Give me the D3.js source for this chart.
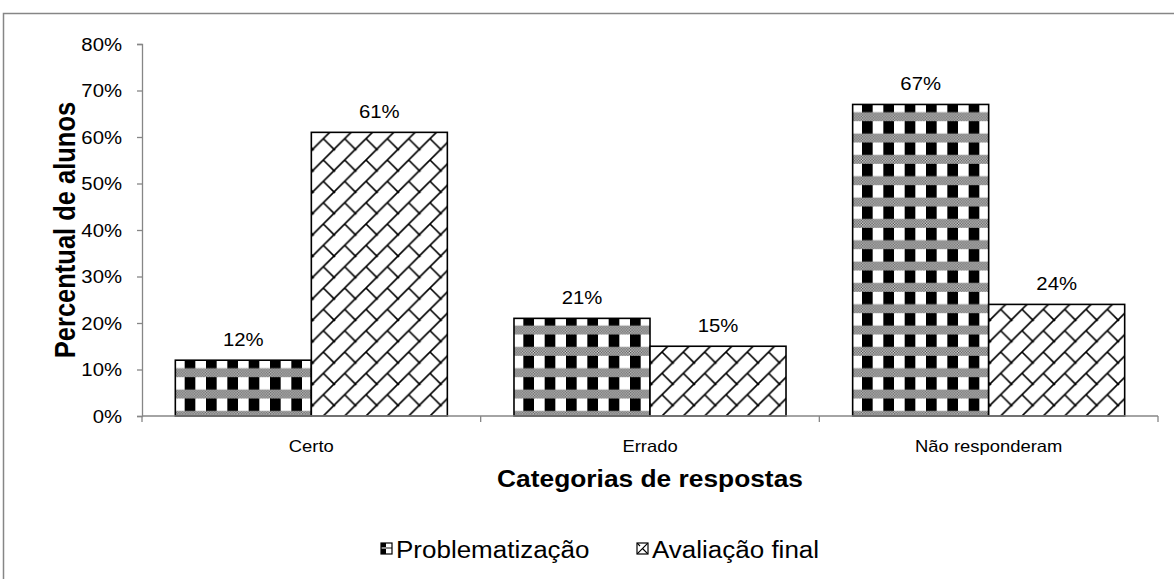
<!DOCTYPE html>
<html>
<head>
<meta charset="utf-8">
<script src="https://cdn.jsdelivr.net/npm/d3@7/dist/d3.min.js"></script>
<style>
  html, body { margin: 0; padding: 0; background: #fff; }
  svg { display: block; font-family: "Liberation Sans", Arial, sans-serif; }
</style>
</head>
<body>
<svg id="chart" width="1174" height="579"></svg>
<script>
// Response categories and the two assessment moments
const categories = ["Certo", "Errado", "Não responderam"];
const seriesNames = ["Problematização", "Avaliação final"];
const problematizacao = [0.12, 0.21, 0.67];
const avaliacaoFinal = [0.61, 0.15, 0.24];
const yTicks = [0, 0.1, 0.2, 0.3, 0.4, 0.5, 0.6, 0.7, 0.8];
const xTitle = "Categorias de respostas";
const yTitle = "Percentual de alunos";

const seriesValues = [problematizacao, avaliacaoFinal];
const data = categories.map((c, i) => ({
  category: c,
  values: seriesNames.map((s, j) => ({ series: s, value: seriesValues[j][i] }))
}));

const svg = d3.select("#chart");
const AXIS = "#868686";
const SX = 1.13; // horizontal text stretch

const plot = { left: 142, right: 1158, top: 44, bottom: 416 };

// ---- fill patterns ----
const defs = svg.append("defs");

function checkPattern(id, S) {
  // tiny dither used inside the grey bands
  const d = S / 8;
  const dots = defs.append("pattern").attr("id", id + "-dots")
    .attr("patternUnits", "userSpaceOnUse").attr("width", d).attr("height", d);
  dots.append("rect").attr("width", d).attr("height", d).attr("fill", "#e0e0e0");
  dots.append("rect").attr("width", d / 2).attr("height", d / 2).attr("fill", "#444");
  dots.append("rect").attr("x", d / 2).attr("y", d / 2).attr("width", d / 2).attr("height", d / 2).attr("fill", "#444");

  const p = defs.append("pattern").attr("id", id)
    .attr("patternUnits", "userSpaceOnUse").attr("width", S).attr("height", S);
  p.append("rect").attr("width", S).attr("height", S).attr("fill", "#fff");
  p.append("rect").attr("x", 0).attr("width", S / 2).attr("height", S).attr("fill", "#000");
  p.append("rect").attr("y", S * 0.26).attr("width", S).attr("height", S * 0.42)
    .attr("fill", `url(#${id}-dots)`);
}

function brickPattern(id, S, sw) {
  const p = defs.append("pattern").attr("id", id)
    .attr("patternUnits", "userSpaceOnUse").attr("width", S).attr("height", S);
  p.append("rect").attr("width", S).attr("height", S).attr("fill", "#fff");
  const segs = [
    [-2, S + 2, S + 2, -2],          // main diagonal (rising)
    [-2, 2, 2, -2],                  // corner pieces of neighbours
    [S - 2, S + 2, S + 2, S - 2],
    [S / 2, S / 2, S + 1, S + 1],    // short cross piece
    [-S / 2, -S / 2, 1, 1]
  ];
  p.selectAll("line").data(segs).join("line")
    .attr("x1", d => d[0]).attr("y1", d => d[1])
    .attr("x2", d => d[2]).attr("y2", d => d[3])
    .attr("stroke", "#000").attr("stroke-width", sw);
}

checkPattern("pat-prob", 64 / 3);
brickPattern("pat-aval", 64 / 3, 1.6);

// small legend swatches
const sw1 = defs.append("pattern").attr("id", "pat-prob-s")
  .attr("patternUnits", "objectBoundingBox").attr("width", 1).attr("height", 1);
sw1.append("rect").attr("width", 11).attr("height", 11).attr("fill", "#fff");
sw1.append("rect").attr("width", 5).attr("height", 11).attr("fill", "#000");
sw1.append("rect").attr("y", 4).attr("width", 11).attr("height", 2).attr("fill", "#888");
const sw2 = defs.append("pattern").attr("id", "pat-aval-s")
  .attr("patternUnits", "objectBoundingBox").attr("width", 1).attr("height", 1);
sw2.append("rect").attr("width", 11).attr("height", 11).attr("fill", "#fff");
sw2.append("path").attr("d", "M0,11 L11,0 M5.5,5.5 L11,11 M0,0 L3,3")
  .attr("stroke", "#000").attr("stroke-width", 1.2).attr("fill", "none");

const fills = { "Problematização": "url(#pat-prob)", "Avaliação final": "url(#pat-aval)" };
const legendFills = { "Problematização": "url(#pat-prob-s)", "Avaliação final": "url(#pat-aval-s)" };

// ---- outer chart frame ----
svg.append("path")
  .attr("d", "M3.5,600 V13.5 H1180")
  .attr("fill", "none").attr("stroke", AXIS).attr("stroke-width", 1.5);

// ---- scales ----
const y = d3.scaleLinear().domain([0, 0.8]).range([plot.bottom, plot.top]);
const x0 = d3.scaleBand().domain(categories).range([plot.left, plot.right]).padding(0);
const x1 = d3.scaleBand().domain(seriesNames).range([0, x0.bandwidth()])
  .paddingInner(0).paddingOuter(0.245);

function stretchedText(sel, tx, ty, extra) {
  return sel.attr("transform", `translate(${tx},${ty}) scale(${SX},1)` + (extra || ""));
}

// ---- y axis ----
const yAxis = svg.append("g").attr("transform", `translate(${plot.left},0)`)
  .call(d3.axisLeft(y).tickValues(yTicks).tickFormat(d3.format(".0%")).tickSize(5).tickSizeOuter(5));
yAxis.attr("font-family", null);
yAxis.select(".domain").attr("stroke", AXIS).attr("stroke-width", 1.3);
yAxis.selectAll(".tick line").attr("stroke", AXIS).attr("stroke-width", 1.3);
yAxis.selectAll(".tick text").each(function () {
  const t = d3.select(this);
  t.attr("x", null).attr("dy", null);
  stretchedText(t, -20, 6)
    .attr("font-size", 18).attr("fill", "#000").attr("text-anchor", "end");
});

// ---- bars ----
const groups = svg.append("g").selectAll("g").data(data).join("g")
  .attr("transform", d => `translate(${x0(d.category)},0)`);
groups.selectAll("rect").data(d => d.values).join("rect")
  .attr("x", d => x1(d.series))
  .attr("y", d => y(d.value))
  .attr("width", x1.bandwidth())
  .attr("height", d => y(0) - y(d.value))
  .attr("fill", d => fills[d.series])
  .attr("stroke", "#000").attr("stroke-width", 1.6);

// value labels
groups.selectAll("text.val").data(d => d.values).join("text").attr("class", "val")
  .each(function (d) {
    stretchedText(d3.select(this), x1(d.series) + x1.bandwidth() / 2, y(d.value) - 14);
  })
  .attr("text-anchor", "middle").attr("font-size", 18).attr("fill", "#000")
  .text(d => d3.format(".0%")(d.value));

// ---- x axis: line, category-boundary ticks, labels ----
const xAxis = svg.append("g");
xAxis.append("line")
  .attr("x1", plot.left).attr("x2", plot.right)
  .attr("y1", y(0)).attr("y2", y(0))
  .attr("stroke", AXIS).attr("stroke-width", 1.5);
const boundaries = categories.map(c => x0(c)).concat([x0(categories[categories.length - 1]) + x0.bandwidth()]);
xAxis.selectAll("line.tk").data(boundaries).join("line").attr("class", "tk")
  .attr("x1", d => d).attr("x2", d => d)
  .attr("y1", y(0)).attr("y2", y(0) + 6)
  .attr("stroke", AXIS).attr("stroke-width", 1.3);
xAxis.selectAll("text").data(categories).join("text")
  .each(function (c) { stretchedText(d3.select(this), x0(c) + x0.bandwidth() / 2, 452); })
  .attr("text-anchor", "middle").attr("font-size", 16.3).attr("fill", "#000")
  .text(c => c);

// ---- axis titles ----
stretchedText(svg.append("text"), (plot.left + plot.right) / 2, 487)
  .attr("text-anchor", "middle").attr("font-size", 23.3).attr("font-weight", "bold")
  .attr("fill", "#000").text(xTitle);

svg.append("text")
  .attr("transform", `translate(75,${(plot.top + plot.bottom) / 2}) scale(${SX},1) rotate(-90)`)
  .attr("text-anchor", "middle").attr("font-size", 25.5).attr("font-weight", "bold")
  .attr("fill", "#000").text(yTitle);

// ---- legend ----
const legendItems = [
  { name: seriesNames[0], x: 381 },
  { name: seriesNames[1], x: 637 }
];
const legend = svg.append("g").selectAll("g").data(legendItems).join("g")
  .attr("transform", d => `translate(${d.x},543)`);
legend.append("rect")
  .attr("width", 11).attr("height", 11)
  .attr("fill", d => legendFills[d.name])
  .attr("stroke", "#000").attr("stroke-width", 1.2);
legend.append("text")
  .each(function () { stretchedText(d3.select(this), 15, 14.5); })
  .attr("font-size", 23).attr("fill", "#000")
  .text(d => d.name);
</script>
</body>
</html>
